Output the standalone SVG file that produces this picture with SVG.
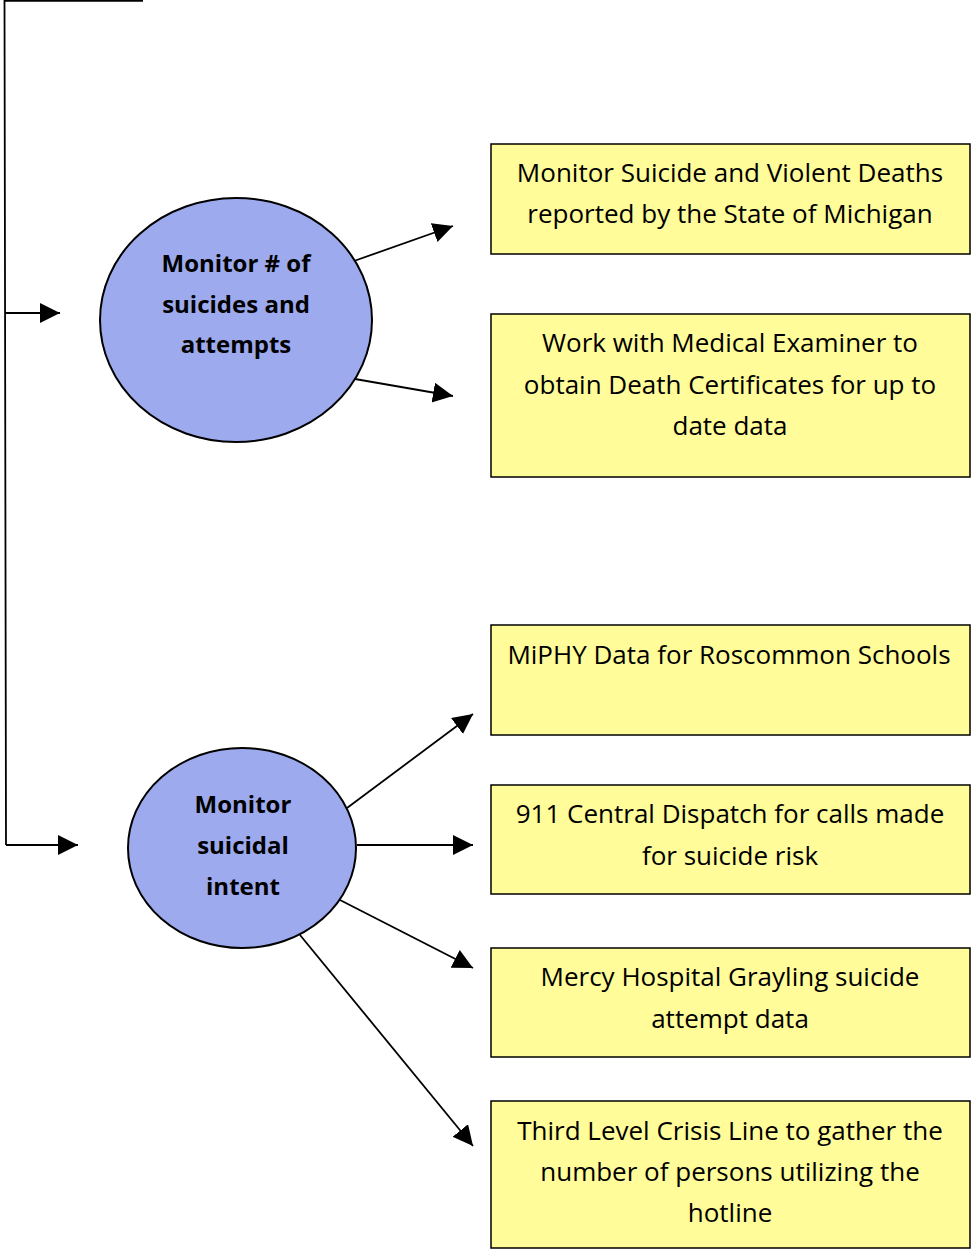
<svg xmlns="http://www.w3.org/2000/svg" width="971" height="1250" viewBox="0 0 971 1250">
  <style>
    .box { fill: #FFFC99; stroke: #000; stroke-width: 1.5; }
    .oval { fill: #9DAAEE; stroke: #000; stroke-width: 2; }
    .t { font-family: "Open Sans", "Liberation Sans", sans-serif; font-size: 26px; fill: #000; text-anchor: middle; }
    .b { font-weight: bold; font-size: 24px; }
    .wire { fill: none; stroke: #000; stroke-width: 1.8; }
  </style>
  <defs>
    <marker id="arrow" markerUnits="userSpaceOnUse" markerWidth="22" markerHeight="22" refX="20" refY="10" orient="auto">
      <path d="M0,0 L20,10 L0,20 z" fill="#000"/>
    </marker>
  </defs>

  <rect width="971" height="1250" fill="#fff"/>

  <g id="connectors">
    <polyline class="wire" points="143,0.9 4.5,0.9 6,845"/>
    <line class="wire" x1="5" y1="313" x2="60" y2="313" marker-end="url(#arrow)"/>
    <line class="wire" x1="6" y1="845" x2="78" y2="845" marker-end="url(#arrow)"/>
    <line class="wire" x1="354" y1="261" x2="453" y2="226" marker-end="url(#arrow)"/>
    <line class="wire" x1="355" y1="379" x2="453" y2="396" marker-end="url(#arrow)"/>
    <line class="wire" x1="347" y1="808" x2="473" y2="714" marker-end="url(#arrow)"/>
    <line class="wire" x1="357" y1="845" x2="473" y2="845" marker-end="url(#arrow)"/>
    <line class="wire" x1="340" y1="900" x2="473" y2="968" marker-end="url(#arrow)"/>
    <line class="wire" x1="300" y1="935" x2="473" y2="1146" marker-end="url(#arrow)"/>
  </g>

  <g id="monitor-suicides">
    <ellipse class="oval" cx="236" cy="320" rx="136" ry="122"/>
    <text class="t b" x="236" y="272">Monitor # of</text>
    <text class="t b" x="236" y="313">suicides and</text>
    <text class="t b" x="236" y="353">attempts</text>
  </g>

  <g id="monitor-intent">
    <ellipse class="oval" cx="242" cy="848" rx="114" ry="100"/>
    <text class="t b" x="243" y="813">Monitor</text>
    <text class="t b" x="243" y="854">suicidal</text>
    <text class="t b" x="243" y="895">intent</text>
  </g>

  <g id="state-deaths">
    <rect class="box" x="491" y="144" width="479" height="110"/>
    <text class="t" x="730" y="182">Monitor Suicide and Violent Deaths</text>
    <text class="t" x="730" y="223">reported by the State of Michigan</text>
  </g>

  <g id="medical-examiner">
    <rect class="box" x="491" y="314" width="479" height="163"/>
    <text class="t" x="730" y="352">Work with Medical Examiner to</text>
    <text class="t" x="730" y="394">obtain Death Certificates for up to</text>
    <text class="t" x="730" y="435">date data</text>
  </g>

  <g id="miphy">
    <rect class="box" x="491" y="625" width="479" height="110"/>
    <text class="t" x="729" y="664">MiPHY Data for Roscommon Schools</text>
  </g>

  <g id="dispatch">
    <rect class="box" x="491" y="785" width="479" height="109"/>
    <text class="t" x="730" y="823">911 Central Dispatch for calls made</text>
    <text class="t" x="730" y="865">for suicide risk</text>
  </g>

  <g id="mercy-hospital">
    <rect class="box" x="491" y="948" width="479" height="109"/>
    <text class="t" x="730" y="986">Mercy Hospital Grayling suicide</text>
    <text class="t" x="730" y="1028">attempt data</text>
  </g>

  <g id="crisis-line">
    <rect class="box" x="491" y="1101" width="479" height="147"/>
    <text class="t" x="730" y="1140">Third Level Crisis Line to gather the</text>
    <text class="t" x="730" y="1181">number of persons utilizing the</text>
    <text class="t" x="730" y="1222">hotline</text>
  </g>
</svg>
